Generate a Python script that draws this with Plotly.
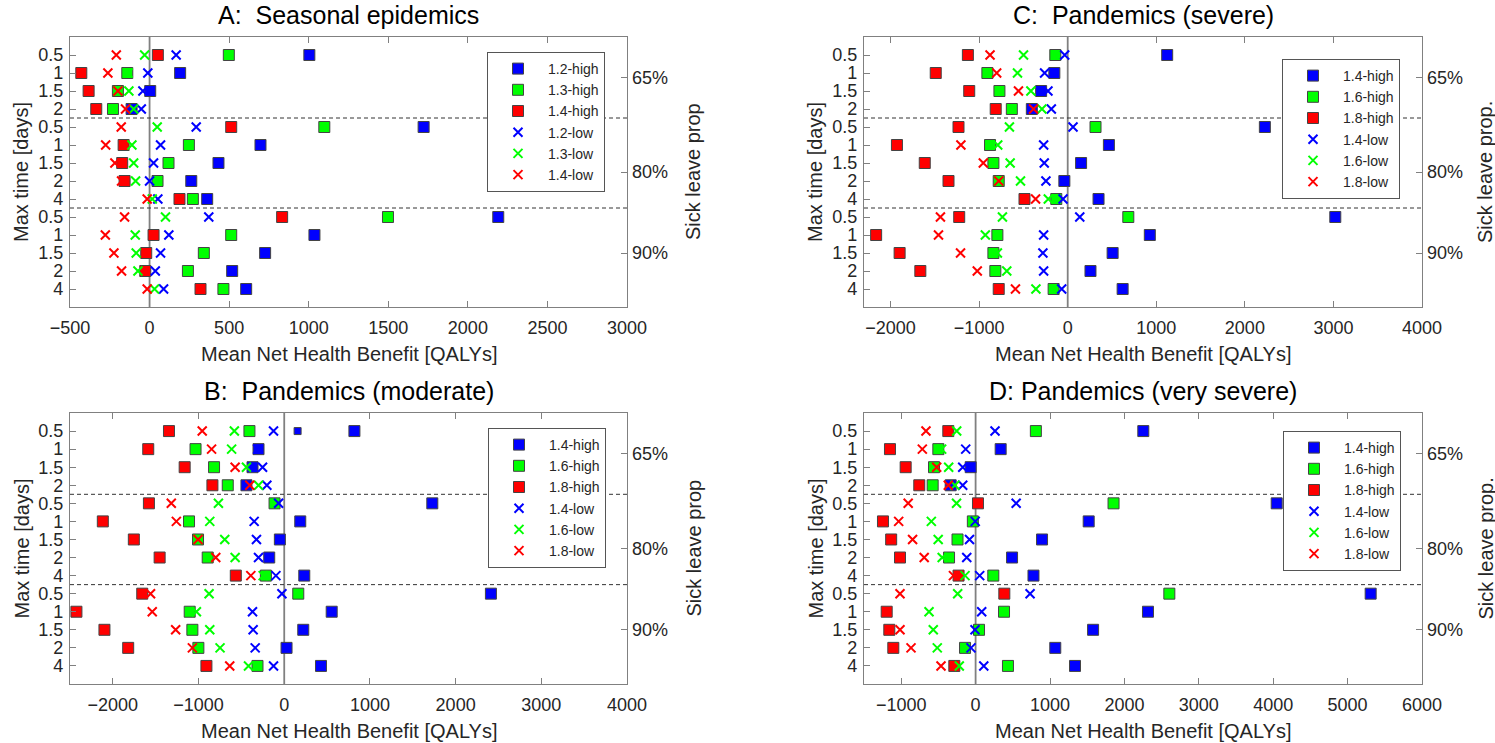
import plotly.graph_objects as go

# figure covers the whole 1495x743 page (body margin removed in post_script)
FW, FH = 1495, 743

# ---------------- data ----------------
row_pos = list(range(1, 15))
time_labels = ["0.5", "1", "1.5", "2", "0.5", "1", "1.5", "2", "4", "0.5", "1", "1.5", "2", "4"]
sick_labels = ["65%", "80%", "90%"]
sick_pos = [2.25, 7.5, 12.0]
group_breaks = [4.5, 9.5]

# A: Seasonal epidemics
A_names = ["1.2-high", "1.3-high", "1.4-high", "1.2-low", "1.3-low", "1.4-low"]
A_12_high = [1004, 192, 4, -113, 1722, 697, 433, 262, 362, 2191, 1036, 726, 519, 607]
A_13_high = [498, -140, -199, -230, 1098, 247, 119, 50, 272, 1498, 513, 341, 241, 464]
A_14_high = [52, -429, -383, -335, 513, -163, -172, -157, 188, 833, 25, -21, -27, 320]
A_12_low = [167, -11, -42, -52, 293, 69, 25, 0, 52, 372, 121, 69, 36, 88]
A_13_low = [-31, -135, -130, -100, 48, -111, -100, -88, 17, 100, -90, -84, -73, 31]
A_14_low = [-209, -262, -199, -151, -178, -276, -218, -176, -15, -157, -278, -224, -176, -15]

# B: Pandemics (moderate)
B_names = ["1.4-high", "1.6-high", "1.8-high", "1.4-low", "1.6-low", "1.8-low"]
B_14_high = [819, -300, -370, -441, 1728, 187, -51, -175, 234, 2412, 554, 222, 27, 429]
B_16_high = [-406, -1035, -819, -659, -113, -1111, -1006, -893, -214, 164, -1103, -1072, -1002, -312]
B_18_high = [-1345, -1587, -1162, -838, -1579, -2117, -1755, -1454, -565, -1657, -2425, -2098, -1821, -908]
B_14_low = [-125, -310, -253, -203, -66, -351, -324, -300, -97, -27, -370, -363, -339, -125]
B_16_low = [-582, -614, -441, -300, -768, -869, -694, -573, -246, -877, -1025, -869, -749, -417]
B_18_low = [-957, -848, -573, -402, -1318, -1259, -1006, -799, -390, -1560, -1540, -1267, -1072, -636]
B_extra_x = [156]
B_extra_row = [1]

# C: Pandemics (severe)
C_names = ["1.4-high", "1.6-high", "1.8-high", "1.4-low", "1.6-low", "1.8-low"]
C_14_high = [1123, -151, -300, -405, 2226, 465, 151, -38, 348, 3021, 927, 507, 257, 620]
C_16_high = [-140, -907, -771, -631, 314, -877, -839, -779, -129, 684, -794, -839, -817, -159]
C_18_high = [-1127, -1490, -1112, -813, -1233, -1928, -1614, -1346, -488, -1225, -2163, -1898, -1664, -779]
C_14_low = [-34, -261, -223, -185, 60, -272, -265, -246, -53, 136, -272, -280, -272, -68]
C_16_low = [-499, -567, -416, -291, -658, -790, -650, -533, -219, -737, -930, -794, -688, -359]
C_18_low = [-877, -802, -556, -386, -1230, -1206, -953, -779, -363, -1437, -1459, -1210, -1021, -590]

# D: Pandemics (very severe)
D_names = ["1.4-high", "1.6-high", "1.8-high", "1.4-low", "1.6-low", "1.8-low"]
D_14_high = [2254, 337, -66, -335, 4047, 1520, 893, 490, 778, 5310, 2317, 1579, 1071, 1336]
D_16_high = [810, -501, -559, -577, 1854, -37, -243, -357, 238, 2604, 382, 46, -142, 435]
D_18_high = [-367, -1151, -940, -757, 32, -1245, -1135, -1016, -229, 386, -1195, -1160, -1106, -286]
D_14_low = [261, -133, -173, -173, 545, -5, -82, -119, 55, 732, 82, -8, -62, 110]
D_16_low = [-254, -456, -362, -277, -256, -595, -503, -449, -142, -241, -626, -569, -515, -219]
D_18_low = [-667, -716, -523, -367, -906, -1034, -847, -691, -298, -1016, -1195, -1016, -868, -465]

# ---------------- style / layout config ----------------
FONT = "Liberation Sans, Arial, Helvetica, sans-serif"
COLORS = ["#0000FF", "#00FF00", "#FF0000"]
AX_COL = "#808080"
TXT = "#262626"

def px_x(p):
    return p / FW

def px_y(p):
    return 1 - p / FH

panels = [
    dict(key="A", title="A:  Seasonal epidemics", names=A_names,
         series=[A_12_high, A_13_high, A_14_high, A_12_low, A_13_low, A_14_low],
         xr=[-500, 3000], dtick=500, box=(70, 627, 37, 307), xa="x", ya="y", ya2="y5",
         legend="legend", leg=(487, 52), right_title="Sick leave prop", rt_x=693),
    dict(key="C", title="C:  Pandemics (severe)", names=C_names,
         series=[C_14_high, C_16_high, C_18_high, C_14_low, C_16_low, C_18_low],
         xr=[-2300, 4000], dtick=1000, box=(864, 1422, 37, 307), xa="x2", ya="y2", ya2="y6",
         legend="legend2", leg=(1282, 59), right_title="Sick leave prop.", rt_x=1485),
    dict(key="B", title="B:  Pandemics (moderate)", names=B_names,
         series=[B_14_high, B_16_high, B_18_high, B_14_low, B_16_low, B_18_low],
         xr=[-2500, 4000], dtick=1000, box=(70, 627, 413, 684), xa="x3", ya="y3", ya2="y7",
         legend="legend3", leg=(488, 428), right_title="Sick leave prop", rt_x=693),
    dict(key="D", title="D: Pandemics (very severe)", names=D_names,
         series=[D_14_high, D_16_high, D_18_high, D_14_low, D_16_low, D_18_low],
         xr=[-1500, 6000], dtick=1000, box=(864, 1422, 413, 684), xa="x4", ya="y4", ya2="y8",
         legend="legend4", leg=(1283, 431), right_title="Sick leave prop.", rt_x=1485),
]

fig = go.Figure()
layout = dict(
    width=FW, height=FH, margin=dict(l=0, r=0, t=0, b=0, autoexpand=False),
    paper_bgcolor="white", plot_bgcolor="white",
    font=dict(family=FONT, color=TXT, size=18),
    showlegend=True,
)
annotations = []
shapes = []

for p in panels:
    x0, x1, y0, y1 = p["box"]
    xname = "xaxis" + p["xa"][1:]
    yname = "yaxis" + p["ya"][1:]
    y2name = "yaxis" + p["ya2"][1:]
    layout[xname] = dict(
        domain=[px_x(x0), px_x(x1)], range=p["xr"], dtick=p["dtick"], tick0=0,
        anchor=p["ya"], showline=True, linecolor=AX_COL, linewidth=1.3, mirror="ticks",
        ticks="inside", ticklen=6, tickcolor=AX_COL, tickwidth=1,
        showgrid=False, zeroline=False, tickfont=dict(size=18, color=TXT),
        ticklabelstandoff=4, automargin=False,
    )
    layout[yname] = dict(
        domain=[px_y(y1), px_y(y0)], range=[15, 0], tickvals=row_pos, ticktext=time_labels,
        anchor=p["xa"], showline=True, linecolor=AX_COL, linewidth=1.3, mirror=True,
        ticks="inside", ticklen=6, tickcolor=AX_COL, tickwidth=1,
        showgrid=False, zeroline=False, tickfont=dict(size=18, color=TXT),
        ticklabelstandoff=2, automargin=False,
    )
    layout[y2name] = dict(
        overlaying=p["ya"], side="right", anchor=p["xa"], range=[15, 0],
        tickvals=sick_pos, ticktext=sick_labels, showline=False,
        ticks="inside", ticklen=6, tickcolor=AX_COL, tickwidth=1,
        showgrid=False, zeroline=False, tickfont=dict(size=18, color=TXT),
        ticklabelstandoff=4, automargin=False,
    )
    lx, ly = p["leg"]
    layout[p["legend"]] = dict(
        x=px_x(lx), y=px_y(ly), xanchor="left", yanchor="top",
        bgcolor="white", bordercolor="#555555", borderwidth=1,
        font=dict(size=14, color=TXT, family=FONT), itemwidth=50,
        tracegroupgap=0, itemclick=False,
    )

    # zero line and group separators
    shapes.append(dict(type="line", xref=p["xa"], yref=p["ya"] + " domain",
                       x0=0, x1=0, y0=0, y1=1, layer="below",
                       line=dict(color=AX_COL, width=1.8)))
    for gb in group_breaks:
        shapes.append(dict(type="line", xref=p["xa"] + " domain", yref=p["ya"],
                           x0=0, x1=1, y0=gb, y1=gb, layer="below",
                           line=dict(color="#333333", width=1, dash="4px,3px")))

    # traces
    for i, (name, vals) in enumerate(zip(p["names"], p["series"])):
        col = COLORS[i % 3]
        if i < 3:
            marker = dict(symbol="square", size=11, color=col,
                          line=dict(color="#444444", width=1))
        else:
            marker = dict(symbol="x-thin", size=9, color=col,
                          line=dict(color=col, width=2))
        fig.add_trace(go.Scatter(
            x=vals, y=row_pos, mode="markers", name=name, marker=marker,
            xaxis=p["xa"], yaxis=p["ya"], legend=p["legend"],
        ))
    if p["key"] == "B":
        fig.add_trace(go.Scatter(
            x=B_extra_x, y=B_extra_row, mode="markers", showlegend=False,
            marker=dict(symbol="square", size=7, color=COLORS[0],
                        line=dict(color="#444444", width=1)),
            xaxis=p["xa"], yaxis=p["ya"],
        ))
    # empty trace so the right-hand "Sick leave prop" axis is rendered
    fig.add_trace(go.Scatter(x=[None], y=[None], mode="markers", showlegend=False,
                             hoverinfo="skip", xaxis=p["xa"], yaxis=p["ya2"]))

    cx = (x0 + x1) / 2
    cy = (y0 + y1) / 2
    annotations.append(dict(text=p["title"], x=px_x(cx), y=px_y(y0 - 22), xref="paper", yref="paper",
                            showarrow=False, xanchor="center", yanchor="middle",
                            font=dict(size=25, color="black", family=FONT)))
    annotations.append(dict(text="Mean Net Health Benefit [QALYs]", x=px_x(cx), y=px_y(y1 + 47),
                            xref="paper", yref="paper", showarrow=False,
                            xanchor="center", yanchor="middle",
                            font=dict(size=20, color=TXT, family=FONT)))
    annotations.append(dict(text="Max time [days]", x=px_x(x0 - 49), y=px_y(cy),
                            xref="paper", yref="paper", showarrow=False, textangle=-90,
                            xanchor="center", yanchor="middle",
                            font=dict(size=20, color=TXT, family=FONT)))
    annotations.append(dict(text=p["right_title"], x=px_x(p["rt_x"]), y=px_y(cy),
                            xref="paper", yref="paper", showarrow=False, textangle=-90,
                            xanchor="center", yanchor="middle",
                            font=dict(size=20, color=TXT, family=FONT)))

layout["annotations"] = annotations
layout["shapes"] = shapes
fig.update_layout(**layout)
fig.write_html(
    "out.html",
    config={"displayModeBar": False},
    post_script="document.body.style.margin='0';document.body.style.overflow='hidden';",
)
